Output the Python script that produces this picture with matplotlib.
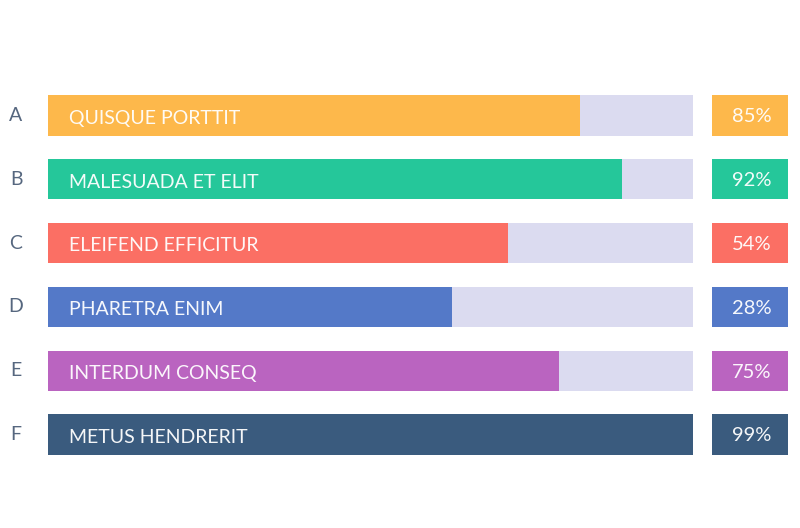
import numpy as np
import matplotlib
matplotlib.use("Agg")
import matplotlib.pyplot as plt

plt.rcParams['font.family'] = ['Lato', 'DejaVu Sans']

# data
letters = ['A', 'B', 'C', 'D', 'E', 'F']
names = ['QUISQUE PORTTIT', 'MALESUADA ET ELIT', 'ELEIFEND EFFICITUR',
         'PHARETRA ENIM', 'INTERDUM CONSEQ', 'METUS HENDRERIT']
fill = [0.825, 0.89, 0.713, 0.626, 0.792, 1.0]   # bar length as share of track
percent = [85, 92, 54, 28, 75, 99]               # text in the right boxes
colors = ['#FDB84B', '#25C79A', '#FB6F64', '#5479C8', '#BA64C0', '#3A5B7E']
track_color = '#DBDBF0'

W, H = 800, 528
fig = plt.figure(figsize=(W / 100, H / 100), dpi=100)

# vertical placement of the rows (pixels from top)
top, bottom = 83.6, 466.4
ax_b = 1 - bottom / H
ax_h = (bottom - top) / H

ax = fig.add_axes([48 / W, ax_b, 645 / W, ax_h])
box = fig.add_axes([712 / W, ax_b, 76 / W, ax_h])

y = np.arange(len(letters))
bar_h = 0.63

ax.barh(y, [1] * len(y), height=bar_h, color=track_color)
ax.barh(y, fill, height=bar_h, color=colors)
for i, name in enumerate(names):
    ax.annotate(name, (0, i), xytext=(15, -2), textcoords='offset points',
                va='center', ha='left', color='white', alpha=0.95, fontsize=14)

box.barh(y, [1] * len(y), height=bar_h, color=colors)
for i, p in enumerate(percent):
    box.annotate(f'{p}%', (0.5, i), xytext=(1, -1), textcoords='offset points',
                 va='center', ha='center', color='white', alpha=0.95, fontsize=14.5)

for a in (ax, box):
    a.set_xlim(0, 1)
    a.set_ylim(len(y) - 0.5, -0.5)
    for s in a.spines.values():
        s.set_visible(False)
    a.set_xticks([])

box.set_yticks([])
ax.set_yticks(y)
ax.set_yticklabels(letters, fontsize=14, color='#56677F')
ax.tick_params(axis='y', length=0, pad=23)
for t in ax.get_yticklabels():
    t.set_ha('center')
    t.set_va('center')

fig.savefig('out.png', dpi=100, facecolor='white')
